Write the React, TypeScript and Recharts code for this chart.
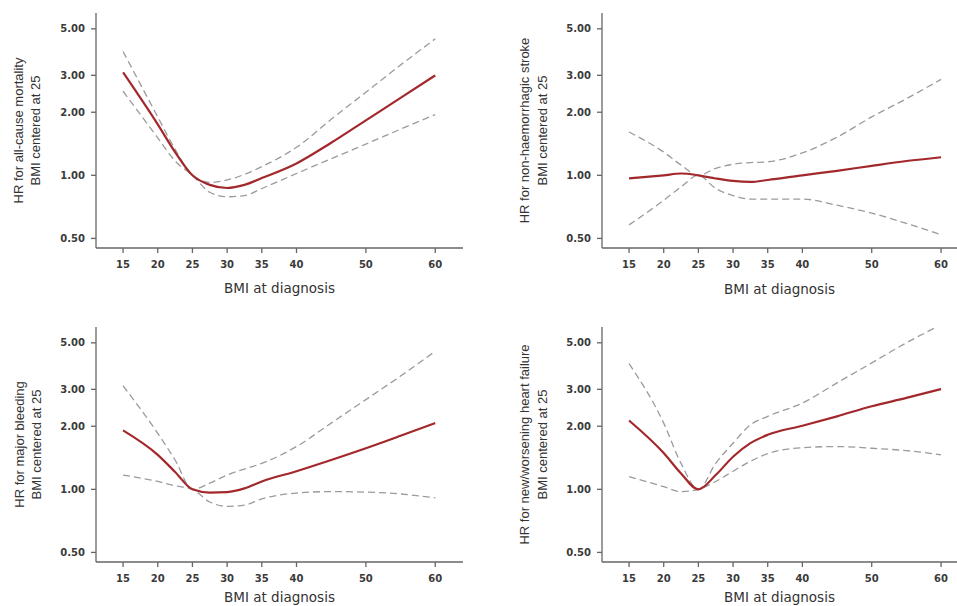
import { LineChart, Line, XAxis, YAxis } from 'recharts'

// BMI grid the curves were read at
const bmi = [15, 20, 22.5, 25, 27.5, 30, 32.5, 35, 40, 45, 50, 55, 60]
const xTicks = [15, 20, 25, 30, 35, 40, 50, 60]
const yTicks = [0.5, 1, 2, 3, 5]

// all-cause mortality
const mortalityHr = [3.1, 1.75, 1.29, 1.0, 0.9, 0.87, 0.9, 0.97, 1.14, 1.43, 1.83, 2.34, 3.0]
const mortalityLo = [2.52, 1.51, 1.17, 1.0, 0.83, 0.79, 0.8, 0.865, 1.02, 1.2, 1.41, 1.66, 1.95]
const mortalityHi = [3.9, 1.9, 1.33, 1.0, 0.925, 0.95, 1.01, 1.1, 1.36, 1.85, 2.49, 3.36, 4.48]

// non-haemorrhagic stroke
const strokeHr = [0.966, 1.0, 1.02, 1.0, 0.966, 0.94, 0.93, 0.95, 1.0, 1.05, 1.11, 1.17, 1.22]
const strokeLo = [0.58, 0.76, 0.88, 1.0, 0.865, 0.8, 0.77, 0.77, 0.77, 0.72, 0.66, 0.59, 0.52]
const strokeHi = [1.61, 1.29, 1.12, 1.0, 1.08, 1.13, 1.15, 1.16, 1.28, 1.52, 1.9, 2.32, 2.87]

// major bleeding
const bleedingHr = [1.91, 1.46, 1.21, 1.0, 0.965, 0.97, 1.01, 1.09, 1.22, 1.38, 1.57, 1.8, 2.07]
const bleedingLo = [1.17, 1.09, 1.04, 1.0, 0.87, 0.83, 0.84, 0.9, 0.96, 0.975, 0.97, 0.95, 0.91]
const bleedingHi = [3.12, 1.85, 1.38, 1.0, 1.07, 1.17, 1.25, 1.33, 1.6, 2.07, 2.68, 3.47, 4.56]

// new/worsening heart failure
const failureHr = [2.13, 1.49, 1.19, 1.0, 1.17, 1.43, 1.66, 1.82, 2.01, 2.23, 2.49, 2.73, 3.01]
const failureLo = [1.15, 1.03, 0.975, 1.0, 1.09, 1.22, 1.36, 1.48, 1.58, 1.6, 1.57, 1.53, 1.46]
const failureHi = [3.98, 2.07, 1.33, 1.0, 1.33, 1.66, 2.03, 2.23, 2.58, 3.22, 4.01, 5.0, 6.1]

const rows = (hr: number[], lo: number[], hi: number[]) =>
  bmi.map((b, i) => ({ bmi: b, hr: hr[i], lo: lo[i], hi: hi[i] }))

const RED = '#a2282c'
const GREY = '#9b9b9b'
const AXIS = '#666'
const tickFont = { fontSize: 10, fill: '#3a3a3a', fontFamily: 'DejaVu Sans', fontWeight: 'bold' }

interface PanelProps {
  left: number
  top: number
  width: number
  height: number
  plotLeft: number
  plotTop: number
  plotBottom: number
  plotRight: number
  xMax: number
  xTitleY: number
  titleX: [number, number]
  title: [string, string]
  data: { bmi: number; hr: number; lo: number; hi: number }[]
}

function Panel(p: PanelProps) {
  const midY = (p.plotTop + p.plotBottom) / 2
  const midX = (p.plotLeft + p.plotRight) / 2
  return (
    <div style={{ position: 'absolute', left: p.left, top: p.top }}>
      <LineChart
        width={p.width}
        height={p.height}
        data={p.data}
        margin={{ top: p.plotTop, right: p.width - p.plotRight, bottom: p.height - p.plotBottom - 30, left: p.plotLeft - 40 }}
      >
        <XAxis
          dataKey="bmi"
          type="number"
          domain={[11.1, p.xMax]}
          allowDataOverflow
          ticks={xTicks}
          height={30}
          tickSize={5}
          tickMargin={8}
          stroke={AXIS}
          strokeWidth={1.3}
          tick={tickFont}
          label={() => (
            <text x={midX} y={p.xTitleY} textAnchor="middle" dominantBaseline="central"
              fontFamily="DejaVu Sans" fontSize={13.5} fill="#333">
              BMI at diagnosis
            </text>
          )}
        />
        <YAxis
          type="number"
          scale="log"
          domain={[0.45, 5.95]}
          allowDataOverflow
          ticks={yTicks}
          width={40}
          tickSize={5}
          tickMargin={6}
          stroke={AXIS}
          strokeWidth={1.3}
          tick={tickFont}
          tickFormatter={(v: number) => v.toFixed(2)}
          label={() => (
            <g fontFamily="Liberation Sans" fontSize={13} fill="#333">
              {p.title.map((t, i) => (
                <text key={i} x={p.titleX[i]} y={midY} textAnchor="middle" dominantBaseline="central"
                  transform={`rotate(-90, ${p.titleX[i]}, ${midY})`}>
                  {t}
                </text>
              ))}
            </g>
          )}
        />
        <Line type="monotone" dataKey="lo" stroke={GREY} strokeWidth={1.3} strokeDasharray="7 4" dot={false} activeDot={false} isAnimationActive={false} />
        <Line type="monotone" dataKey="hi" stroke={GREY} strokeWidth={1.3} strokeDasharray="7 4" dot={false} activeDot={false} isAnimationActive={false} />
        <Line type="monotone" dataKey="hr" stroke={RED} strokeWidth={2.2} dot={false} activeDot={false} isAnimationActive={false} />
      </LineChart>
    </div>
  )
}

export default function App() {
  return (
    <div style={{ position: 'absolute', left: 0, top: 0, width: 957, height: 606, background: '#fff', overflow: 'hidden' }}>
      <Panel left={0} top={0} width={478} height={300} plotLeft={96} plotTop={13} plotBottom={248} plotRight={463}
        xMax={64} xTitleY={288} titleX={[18, 35]} title={['HR for all-cause mortality', 'BMI centered at 25']}
        data={rows(mortalityHr, mortalityLo, mortalityHi)} />
      <Panel left={477} top={0} width={480} height={300} plotLeft={125} plotTop={13} plotBottom={248} plotRight={480}
        xMax={62.3} xTitleY={289} titleX={[47, 65]} title={['HR for non-haemorrhagic stroke', 'BMI centered at 25']}
        data={rows(strokeHr, strokeLo, strokeHi)} />
      <Panel left={0} top={300} width={478} height={306} plotLeft={96} plotTop={27} plotBottom={262} plotRight={463}
        xMax={64} xTitleY={297} titleX={[19, 36]} title={['HR for major bleeding', 'BMI centered at 25']}
        data={rows(bleedingHr, bleedingLo, bleedingHi)} />
      <Panel left={477} top={300} width={480} height={306} plotLeft={125} plotTop={27} plotBottom={262} plotRight={480}
        xMax={62.3} xTitleY={297} titleX={[47, 65]} title={['HR for new/worsening heart failure', 'BMI centered at 25']}
        data={rows(failureHr, failureLo, failureHi)} />
    </div>
  )
}
